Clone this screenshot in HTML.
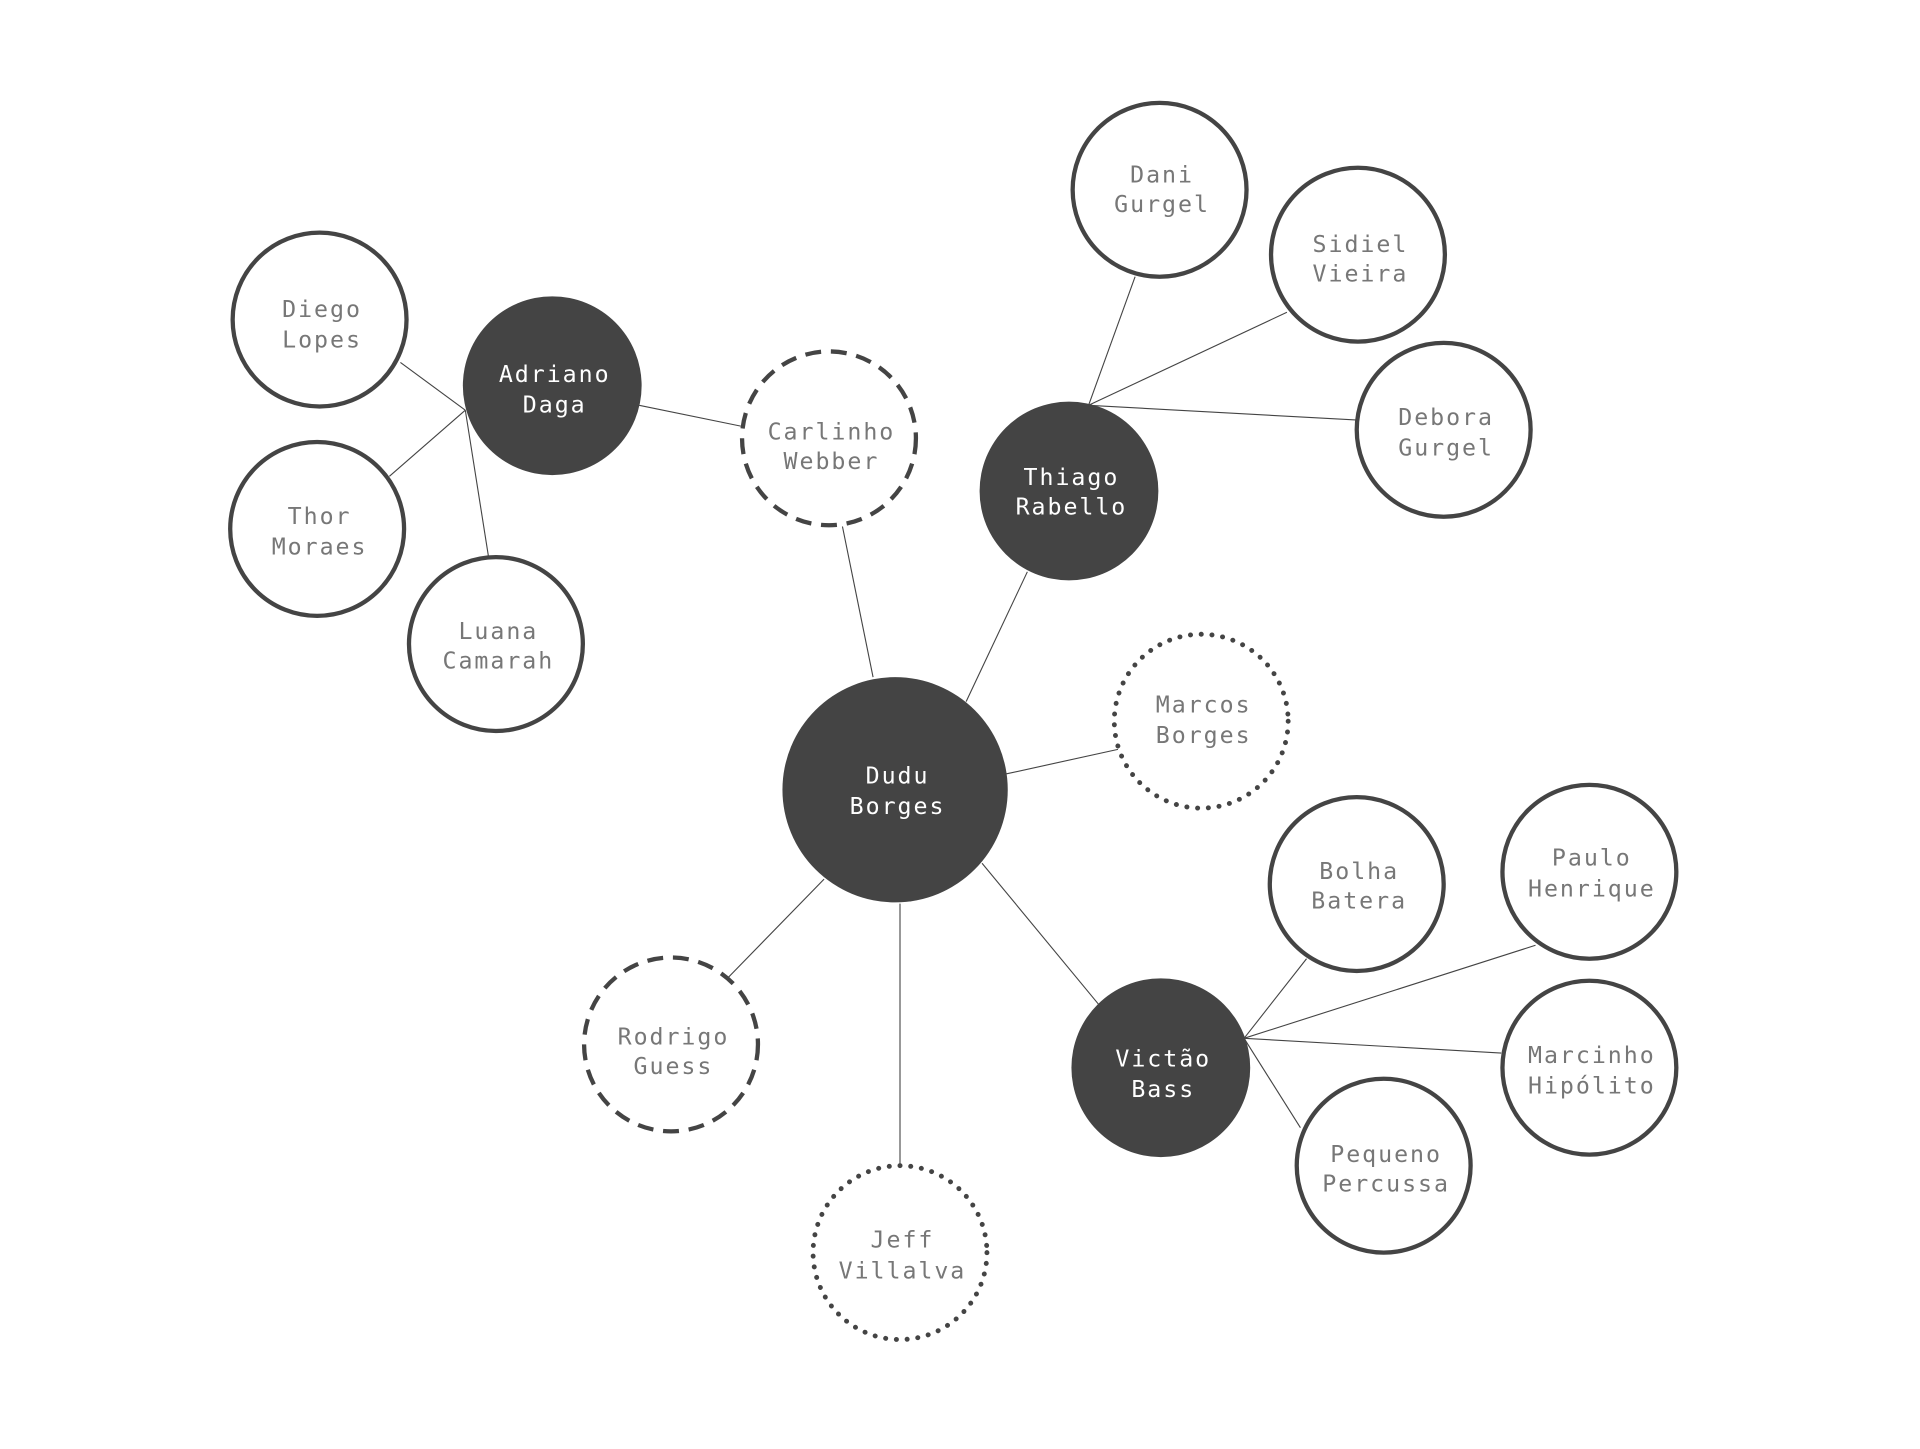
<!DOCTYPE html>
<html><head><meta charset="utf-8"><style>
html,body{margin:0;padding:0;background:#fff;}
svg{display:block;}
text{font-family:"DejaVu Sans Mono","Liberation Mono",monospace;font-size:19px;letter-spacing:1.6px;text-anchor:middle;}
.w{fill:#777;}
.f{fill:#fff;}
</style></head><body>
<svg width="1920" height="1449" viewBox="0 0 1568 1183.4" preserveAspectRatio="none" xmlns="http://www.w3.org/2000/svg">
<g stroke="#444" stroke-width="0.9" fill="none">
<line x1="380" y1="335" x2="327" y2="296"/>
<line x1="380" y1="335" x2="318" y2="389"/>
<line x1="380" y1="335" x2="399" y2="455"/>
<line x1="522" y1="331" x2="605" y2="348"/>
<line x1="688" y1="430" x2="713" y2="553"/>
<line x1="839" y1="467" x2="789" y2="573"/>
<line x1="889" y1="331" x2="927" y2="226"/>
<line x1="889" y1="331" x2="1051" y2="255"/>
<line x1="889" y1="331" x2="1107" y2="343"/>
<line x1="822" y1="632" x2="913" y2="612"/>
<line x1="673" y1="718" x2="595" y2="798"/>
<line x1="735" y1="738" x2="735" y2="952"/>
<line x1="802" y1="705" x2="897" y2="820"/>
<line x1="1016" y1="848" x2="1067" y2="783"/>
<line x1="1016" y1="848" x2="1254" y2="772"/>
<line x1="1016" y1="848" x2="1226" y2="860"/>
<line x1="1016" y1="848" x2="1062" y2="921"/>
</g>
<g fill="#444">
<circle cx="731" cy="645" r="92"/>
<circle cx="451" cy="315" r="73"/>
<circle cx="873" cy="401" r="73"/>
<circle cx="948" cy="872" r="73"/>
</g>
<g fill="#fff" stroke="#444" stroke-width="3.5">
<circle cx="677" cy="358" r="71" stroke-dasharray="13 8"/>
<circle cx="548" cy="853" r="71" stroke-dasharray="13 8"/>
<circle cx="981" cy="589" r="71" stroke-dasharray="0.1 8.7" stroke-linecap="round" stroke-width="4"/>
<circle cx="735" cy="1023" r="71" stroke-dasharray="0.1 8.7" stroke-linecap="round" stroke-width="4"/>
<circle cx="261" cy="261" r="71"/>
<circle cx="259" cy="432" r="71"/>
<circle cx="405" cy="526" r="71"/>
<circle cx="947" cy="155" r="71"/>
<circle cx="1109" cy="208" r="71"/>
<circle cx="1179" cy="351" r="71"/>
<circle cx="1108" cy="722" r="71"/>
<circle cx="1298" cy="712" r="71"/>
<circle cx="1298" cy="872" r="71"/>
<circle cx="1130" cy="952" r="71"/>
</g>
<text class="f" x="733" y="640">Dudu</text><text class="f" x="733" y="665">Borges</text>
<text class="f" x="453" y="312">Adriano</text><text class="f" x="453" y="337">Daga</text>
<text class="f" x="875" y="396">Thiago</text><text class="f" x="875" y="420">Rabello</text>
<text class="f" x="950" y="871">Victão</text><text class="f" x="950" y="896">Bass</text>
<text class="w" x="679" y="359">Carlinho</text><text class="w" x="679" y="383">Webber</text>
<text class="w" x="550" y="853">Rodrigo</text><text class="w" x="550" y="877">Guess</text>
<text class="w" x="983" y="582">Marcos</text><text class="w" x="983" y="607">Borges</text>
<text class="w" x="737" y="1019">Jeff</text><text class="w" x="737" y="1044">Villalva</text>
<text class="w" x="263" y="259">Diego</text><text class="w" x="263" y="284">Lopes</text>
<text class="w" x="261" y="428">Thor</text><text class="w" x="261" y="453">Moraes</text>
<text class="w" x="407" y="522">Luana</text><text class="w" x="407" y="546">Camarah</text>
<text class="w" x="949" y="149">Dani</text><text class="w" x="949" y="173">Gurgel</text>
<text class="w" x="1111" y="206">Sidiel</text><text class="w" x="1111" y="230">Vieira</text>
<text class="w" x="1181" y="347">Debora</text><text class="w" x="1181" y="372">Gurgel</text>
<text class="w" x="1110" y="718">Bolha</text><text class="w" x="1110" y="742">Batera</text>
<text class="w" x="1300" y="707">Paulo</text><text class="w" x="1300" y="732">Henrique</text>
<text class="w" x="1300" y="868">Marcinho</text><text class="w" x="1300" y="893">Hipólito</text>
<text class="w" x="1132" y="949">Pequeno</text><text class="w" x="1132" y="973">Percussa</text>
</svg>
</body></html>
